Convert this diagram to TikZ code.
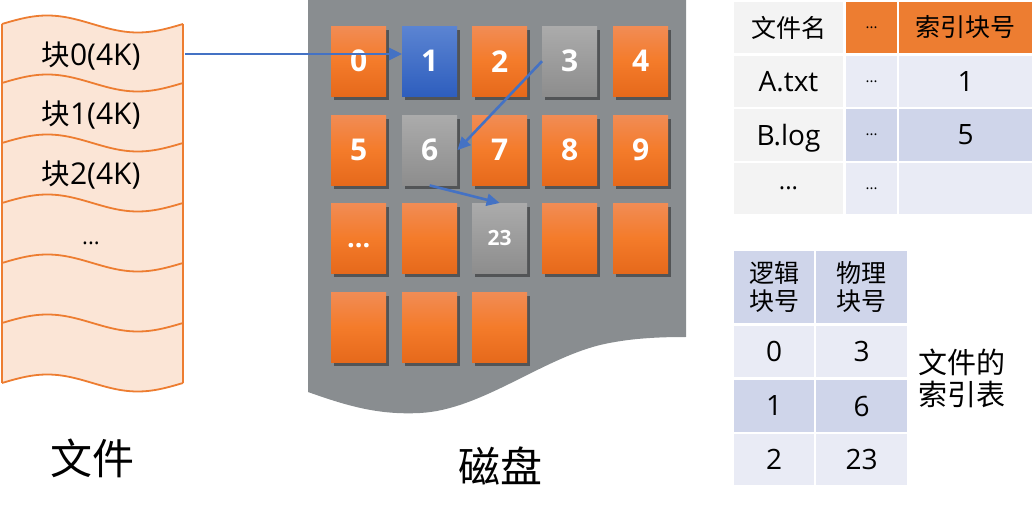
\documentclass[tikz,border=0pt]{standalone}
\usepackage{fontspec}
\setmainfont{Open Sans}
\newfontfamily\cjk{Noto Sans CJK SC}
\usetikzlibrary{arrows.meta,shadows}
\definecolor{diskgray}{HTML}{898D90}
\definecolor{filefill}{HTML}{FBE5D6}
\definecolor{fileline}{HTML}{ED7D31}
\definecolor{arrblue}{HTML}{4472C4}
\definecolor{oTop}{HTML}{F18C55}
\definecolor{oMid}{HTML}{F47B2A}
\definecolor{oBot}{HTML}{E6691B}
\definecolor{gTop}{HTML}{ABABAB}
\definecolor{gBot}{HTML}{8D8D8D}
\definecolor{bTop}{HTML}{5B84D2}
\definecolor{bBot}{HTML}{2E5EBE}
\definecolor{hdr}{HTML}{ED7D31}
\definecolor{cgray}{HTML}{F3F3F3}
\definecolor{clight}{HTML}{E9EBF5}
\definecolor{cdark}{HTML}{CFD5EA}
\newcommand\kuai{{\cjk\fontsize{28.5}{28.5}\selectfont 块}}
\begin{document}
\begin{tikzpicture}[x=1pt,y=-1pt,
  tile/.style={minimum width=55pt, minimum height=70pt, inner sep=0pt, anchor=north west,
    text=white, font=\bfseries\fontsize{30}{30}\selectfont,
    drop shadow={shadow xshift=2.5pt, shadow yshift=-3.5pt, opacity=0.4, fill=black}},
  otile/.style={tile, top color=oTop, bottom color=oBot, middle color=oMid},
  gtile/.style={tile, top color=gTop, bottom color=gBot},
  btile/.style={tile, top color=bTop, bottom color=bBot},
  arr/.style={draw=arrblue, line width=2.6pt, -{Triangle[length=13pt,width=12pt]}},
  fline/.style={draw=fileline, line width=1.8pt},
  filetxt/.style={font=\fontsize{30}{30}\selectfont, inner sep=0pt},
  cell/.style={inner sep=0pt, font=\fontsize{28}{28}\selectfont, align=center},
  ccell/.style={inner sep=0pt, font=\cjk\fontsize{25}{28}\selectfont, align=center},
  dcell/.style={inner sep=0pt, font=\fontsize{15}{15}\selectfont}
]
\useasboundingbox (0,0) rectangle (1036,510);

% ---------- file ----------
\fill[filefill] plot[domain=2:183,samples=60] (\x,{24-8.5*sin((\x-2)/181*360)})
  -- plot[domain=183:2,samples=60] (\x,{383-8.5*sin((\x-2)/181*360)}) -- cycle;
\foreach \yy in {24,83,143,203,263,323,383}{
  \draw[fline] plot[domain=2:183,samples=60] (\x,{\yy-8.5*sin((\x-2)/181*360)});
}
\draw[fline] (2,24) -- (2,383);
\draw[fline] (183,24) -- (183,383);
\node[filetxt] (b0) at (91,56) {\kuai0(4K)};
\node[filetxt] (b1) at (91,115) {\kuai1(4K)};
\node[filetxt] (b2) at (91,175) {\kuai2(4K)};
\node[filetxt, font=\fontsize{22}{22}\selectfont, anchor=base] (b3) at (91,245) {...};
\coordinate (f0) at (185,54);

% ---------- disk ----------
\fill[diskgray] (308,0) -- (686,0) -- (686,337)
  .. controls (660,337) and (630,338) .. (600,345)
  .. controls (540,360) and (480,410) .. (420,413)
  .. controls (380,415) and (350,407) .. (308,392) -- cycle;

\node[otile] (t0) at (331,26) {0};
\node[btile] (t1) at (402,26) {1};
\node[otile] (t2) at (472,26) {2};
\node[gtile] (t3) at (542,26) {3};
\node[otile] (t4) at (613,26) {4};
\node[otile] (t5) at (331,115) {5};
\node[gtile] (t6) at (402,115) {6};
\node[otile] (t7) at (472,115) {7};
\node[otile] (t8) at (542,115) {8};
\node[otile] (t9) at (613,115) {9};
\node[otile, font=\bfseries\fontsize{27}{27}\selectfont, text depth=0pt, text height=18pt] (t10) at (331,203) {...};
\node[otile] (t11) at (402,203) {};
\node[gtile, font=\bfseries\fontsize{21}{21}\selectfont] (t12) at (472,203) {23};
\node[otile] (t13) at (542,203) {};
\node[otile] (t14) at (613,203) {};
\node[otile] (t15) at (331,292) {};
\node[otile] (t16) at (402,292) {};
\node[otile] (t17) at (472,292) {};

\draw[arr] (f0) -- (t1.west |- f0);
\draw[arr] (t3.west) -- (t6.east);
\draw[arr] (t6.south) -- (t12.north);

\node[font=\cjk\fontsize{42}{42}\selectfont] (lfile) at (92,458) {文件};
\node[font=\cjk\fontsize{42}{42}\selectfont] (ldisk) at (500,466) {磁盘};

% ---------- table 1 ----------
\node[ccell, fill=cgray, minimum width=109pt, minimum height=51pt] (a00) at (788.5,27.5) {文件名};
\node[dcell, fill=hdr, minimum width=51pt, minimum height=51pt] (a01) at (871.5,27.5) {...};
\node[ccell, fill=hdr, minimum width=133pt, minimum height=51pt] (a02) at (965.5,27.5) {索引块号};
\node[cell, fill=cgray, minimum width=109pt, minimum height=51pt] (a10) at (788.5,81.5) {A.txt};
\node[dcell, fill=clight, minimum width=51pt, minimum height=51pt] (a11) at (871.5,81.5) {...};
\node[cell, fill=clight, minimum width=133pt, minimum height=51pt] (a12) at (965.5,81.5) {1};
\node[cell, fill=cgray, minimum width=109pt, minimum height=52pt] (a20) at (788.5,135) {B.lo\smash{g}};
\node[dcell, fill=cdark, minimum width=51pt, minimum height=52pt] (a21) at (871.5,135) {...};
\node[cell, fill=cdark, minimum width=133pt, minimum height=52pt] (a22) at (965.5,135) {5};
\node[cell, fill=cgray, minimum width=109pt, minimum height=51pt, font=\fontsize{24}{24}\selectfont] (a30) at (788.5,188.5) {...};
\node[dcell, fill=clight, minimum width=51pt, minimum height=51pt] (a31) at (871.5,188.5) {...};
\node[cell, fill=clight, minimum width=133pt, minimum height=51pt] (a32) at (965.5,188.5) {};

% ---------- table 2 ----------
\node[ccell, fill=cdark, minimum width=80pt, minimum height=72pt] (c00) at (774,287) {逻辑\\块号};
\node[ccell, fill=cdark, minimum width=91pt, minimum height=72pt] (c01) at (861.5,287) {物理\\块号};
\node[cell, fill=clight, minimum width=80pt, minimum height=51pt] (c10) at (774,351.5) {0};
\node[cell, fill=clight, minimum width=91pt, minimum height=51pt] (c11) at (861.5,351.5) {3};
\node[cell, fill=cdark, minimum width=80pt, minimum height=52pt] (c20) at (774,406) {1};
\node[cell, fill=cdark, minimum width=91pt, minimum height=52pt] (c21) at (861.5,406) {6};
\node[cell, fill=clight, minimum width=80pt, minimum height=51pt] (c30) at (774,459.5) {2};
\node[cell, fill=clight, minimum width=91pt, minimum height=51pt] (c31) at (861.5,459.5) {23};

\node[align=left, inner sep=0pt, font=\cjk\fontsize{29}{32}\selectfont] (lidx) at (962,378) {文件的\\索引表};
\end{tikzpicture}
\end{document}
